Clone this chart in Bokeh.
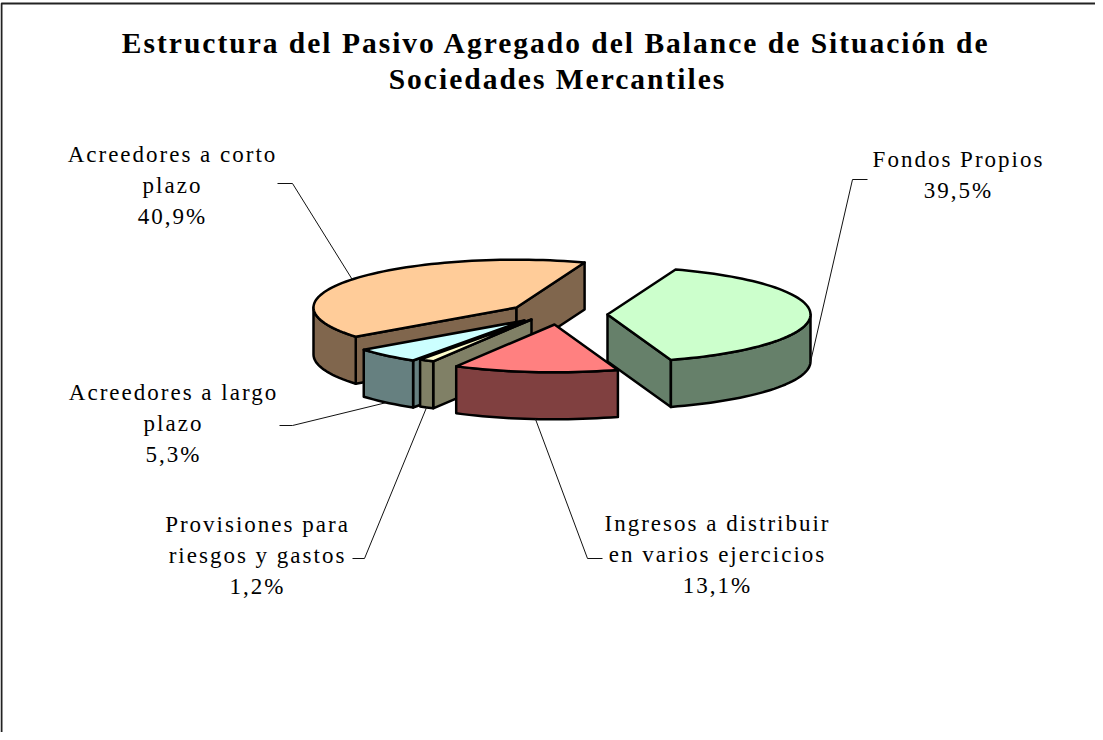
import math
from bokeh.plotting import figure
from bokeh.models import Range1d, InlineStyleSheet
from bokeh.core.properties import value
from bokeh.embed import file_html
from bokeh.resources import INLINE

# ---- data
categories = ["Fondos Propios", "Ingresos a distribuir en varios ejercicios",
              "Provisiones para riesgos y gastos", "Acreedores a largo plazo",
              "Acreedores a corto plazo"]
shares = [39.5, 13.1, 1.2, 5.3, 40.9]
label_lines = [["Fondos Propios"],
               ["Ingresos a distribuir", "en varios ejercicios"],
               ["Provisiones para", "riesgos y gastos"],
               ["Acreedores a largo", "plazo"],
               ["Acreedores a corto", "plazo"]]
title_lines = ["Estructura del Pasivo Agregado del Balance de Situación de",
               "Sociedades Mercantiles"]

# ---- style and layout (page pixels)
top_colors = ["#CCFFCC", "#FF8080", "#FFFFCC", "#CCFFFF", "#FFCC99"]
side_colors = ["#66806A", "#804040", "#808066", "#668080", "#80664D"]
apex = [(615, 322), (562, 332), (539, 327), (532, 328), (524, 315)]
RX, RY, DEPTH = 203, 47.8, 47
START = 19.6
draw_order = [4, 0, 3, 2, 1]
label_center = [966, 725, 265, 181, 180]
label_first_y = [167, 531, 532, 400, 162]
LINE_H = 31
elbow = [[(860, 187), (875, 187)], [(595, 566), (610, 566)], [(372, 566), (360, 566)],
         [(300, 433), (287, 433)], [(300, 191), (285, 191)]]
SPACING = 2.0
W, H = 1095, 732
OX, OY = 8, 8

p = figure(width=W, height=H, output_backend="svg", toolbar_location=None,
           x_range=Range1d(OX, OX + W), y_range=Range1d(OY + H, OY),
           min_border=0, outline_line_color=None,
           stylesheets=[InlineStyleSheet(css=":host{letter-spacing:%gpx}" % SPACING)])
p.axis.visible = False
p.grid.visible = False

# frame (open at the right and bottom edge of the page)
p.line([9, 9, OX + W], [OY + H, 11, 11], line_color="#222222", line_width=2)


def pt(a, deg, dy=0.0):
    t = math.radians(deg)
    return (a[0] + RX * math.sin(t), a[1] - RY * math.cos(t) + dy)


def arc(a, d0, d1, dy=0.0, step=2.0):
    n = max(2, int(abs(d1 - d0) / step) + 1)
    return [pt(a, d0 + (d1 - d0) * i / (n - 1), dy) for i in range(n)]


# angles of each slice, clockwise from north
angles = []
cur = START
for s in shares:
    angles.append((cur, cur + s * 3.6))
    cur += s * 3.6

xs, ys, fills = [], [], []


def add(poly, c):
    xs.append([q[0] for q in poly])
    ys.append([q[1] for q in poly])
    fills.append(c)


for i in draw_order:
    a = apex[i]
    d0, d1 = angles[i]
    side, top = side_colors[i], top_colors[i]
    # radial walls
    if math.sin(math.radians(d0)) < 0:
        e = pt(a, d0)
        add([a, e, (e[0], e[1] + DEPTH), (a[0], a[1] + DEPTH)], side)
    if math.sin(math.radians(d1)) > 0:
        e = pt(a, d1)
        add([a, e, (e[0], e[1] + DEPTH), (a[0], a[1] + DEPTH)], side)
    # outer wall: the part of the rim between 90 and 270 degrees
    for k in (0, 360):
        lo, hi = max(d0, 90 + k), min(d1, 270 + k)
        if lo < hi:
            add(arc(a, lo, hi) + arc(a, hi, lo, DEPTH), side)
    # top
    add([a] + arc(a, d0, d1), top)

p.patches(xs, ys, fill_color=fills, line_color="black", line_width=2.5, line_join="round")

# leader lines: they start on the slice rim at the slice's mid angle
for i in range(len(shares)):
    mid = sum(angles[i]) / 2
    m = mid % 360
    s = pt(apex[i], mid, DEPTH if 90 <= m <= 270 else 0)
    p.line([s[0]] + [q[0] for q in elbow[i]], [s[1]] + [q[1] for q in elbow[i]],
           line_color="#111111", line_width=1)

# labels (x is corrected because Bokeh centres without the letter spacing)
tx, ty, tt = [], [], []
for i, lines in enumerate(label_lines):
    full = lines + [f"{shares[i]:.1f}%".replace(".", ",")]
    for j, t in enumerate(full):
        tx.append(label_center[i] - SPACING * len(t) / 2)
        ty.append(label_first_y[i] + j * LINE_H)
        tt.append(t)
p.text(tx, ty, text=tt, text_font=value("Liberation Serif"), text_font_size="23px",
       text_align="center", text_baseline="middle", text_color="black")

p.text([564 - SPACING * len(title_lines[0]) / 2, 565 - SPACING * len(title_lines[1]) / 2],
       [50, 86], text=title_lines, text_font=value("Liberation Serif"),
       text_font_size="29.5px", text_font_style="bold", text_align="center",
       text_baseline="middle", text_color="black")

open("out.html", "w").write(file_html(p, INLINE))
